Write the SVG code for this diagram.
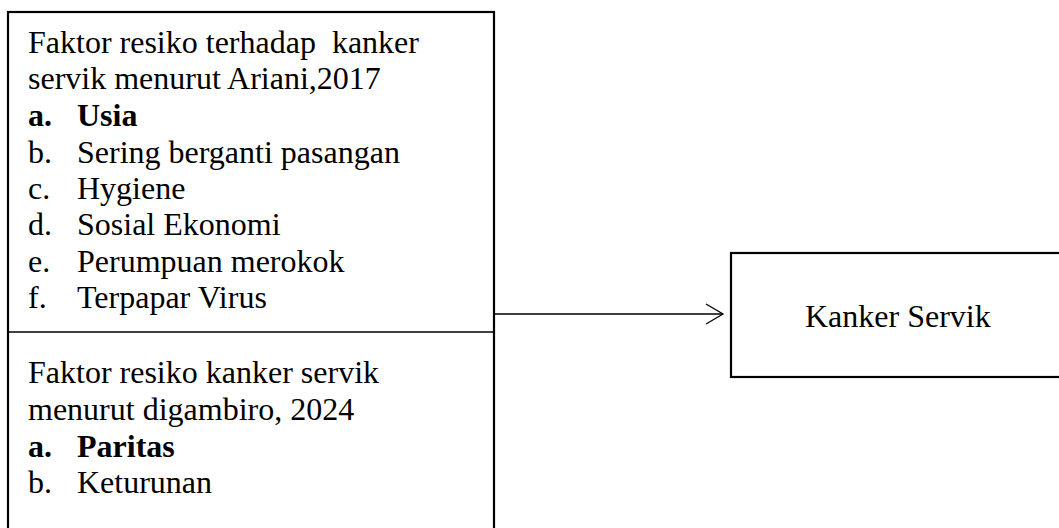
<svg xmlns="http://www.w3.org/2000/svg" width="1059" height="528" viewBox="0 0 1059 528">
<style>
text{font-family:"Liberation Serif","Times New Roman",serif;font-size:32px;fill:#000}
.b{font-weight:bold}
.box{fill:#fff;stroke:#000;stroke-width:2.2}
</style>
<defs>
<marker id="arr" markerWidth="20" markerHeight="24" refX="18" refY="11" orient="auto" markerUnits="userSpaceOnUse">
<path d="M1,1 L18,11 L1,21" fill="none" stroke="#000" stroke-width="1.3"/>
</marker>
</defs>
<rect width="1059" height="528" fill="#fff"/>
<g id="connectors">
<line x1="494" y1="314" x2="723" y2="314" stroke="#000" stroke-width="1.3" marker-end="url(#arr)"/>
</g>
<g id="node-faktor">
<rect class="box" x="8" y="12" width="486" height="530"/>
<line x1="8" y1="332" x2="494" y2="332" stroke="#000" stroke-width="1.5"/>
<g id="ariani">
<text x="28" y="53" xml:space="preserve">Faktor resiko terhadap  kanker</text>
<text x="28" y="89">servik menurut Ariani,2017</text>
<text x="28" y="126" class="b">a.</text><text x="77" y="126" class="b">Usia</text>
<text x="28" y="163">b.</text><text x="77" y="163">Sering berganti pasangan</text>
<text x="28" y="199">c.</text><text x="77" y="199">Hygiene</text>
<text x="28" y="235">d.</text><text x="77" y="235">Sosial Ekonomi</text>
<text x="28" y="272">e.</text><text x="77" y="272">Perumpuan merokok</text>
<text x="28" y="308">f.</text><text x="77" y="308">Terpapar Virus</text>
</g>
<g id="digambiro">
<text x="28" y="383">Faktor resiko kanker servik</text>
<text x="28" y="420">menurut digambiro, 2024</text>
<text x="28" y="457" class="b">a.</text><text x="77" y="457" class="b">Paritas</text>
<text x="28" y="493">b.</text><text x="77" y="493">Keturunan</text>
</g>
</g>
<g id="node-kanker">
<rect class="box" x="731" y="253" width="340" height="124"/>
<text x="805" y="327">Kanker Servik</text>
</g>
</svg>
